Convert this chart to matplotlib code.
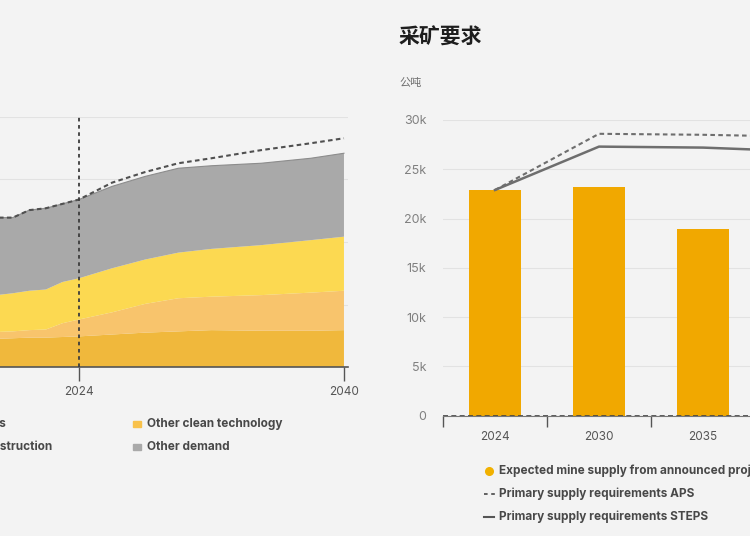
import matplotlib
matplotlib.use("Agg")
import matplotlib.pyplot as plt
from matplotlib.lines import Line2D
from matplotlib.patches import Rectangle
from matplotlib.ticker import FuncFormatter

plt.rcParams['font.family'] = ['Inter', 'DejaVu Sans']

# left panel: demand by sector (kt)
years = [2019, 2020, 2021, 2022, 2023, 2024, 2026, 2028, 2030, 2032, 2035, 2038, 2040]
networks = [4500, 4600, 4700, 4700, 4800, 4900, 5200, 5500, 5700, 5900, 5800, 5800, 5900]
clean_tech = [1100, 1100, 1200, 1300, 2200, 2700, 3550, 4600, 5300, 5350, 5700, 6100, 6300]
construction = [5900, 6100, 6300, 6400, 6600, 6600, 7050, 7100, 7300, 7650, 8000, 8400, 8650]
other = [12400, 12100, 12900, 13000, 12500, 12600, 13100, 13300, 13500, 13300, 13100, 13100, 13350]
total_aps = [23900, 23900, 25100, 25400, 26100, 26800, 29500, 31200, 32600, 33400, 34700, 35800, 36600]

# right panel: mining requirements (kt)
cats = ["2024", "2030", "2035", "2040"]
mine_supply = [22900, 23200, 18900]
req_aps = [22900, 28600, 28500, 28300]
req_steps = [22900, 27300, 27200, 26800]

BG = "#f3f3f3"
TXT = "#484848"
GRID = "#e2e2e2"
W, H = 750, 536


def fx(x):
    return x / W


def fy(y):
    return 1 - y / H


fig = plt.figure(figsize=(7.5, 5.36), dpi=100, facecolor=BG)

# ---- left panel
ax1 = fig.add_axes([fx(-3.8), fy(367), 351.9 / W, 250 / H], facecolor=BG)
ax1.stackplot(years, networks, clean_tech, construction, other,
              colors=["#f0b83c", "#f8c46c", "#fcd951", "#a9a9a9"],
              edgecolor="none", zorder=2)
tops = [sum(v) for v in zip(networks, clean_tech, construction, other)]
ax1.plot(years, tops, color="#8c8c8c", lw=0.8, zorder=3)
ax1.plot(years, total_aps, color="#505050", lw=1.5, ls=(0, (2.2, 1.6)), zorder=4)
ax1.axvline(2024, color="#3c3c3c", lw=1.3, ls=(0, (2, 2)), zorder=5)
ax1.set_xlim(2019, 2040.25)
ax1.set_ylim(0, 40000)
ax1.set_yticks([0, 10000, 20000, 30000, 40000])
ax1.grid(axis="y", color=GRID, lw=0.8, zorder=0)
ax1.set_xticks([2024, 2040])
ax1.tick_params(axis="y", length=0, labelleft=False)
ax1.tick_params(axis="x", length=10, width=1, color="#555555", labelsize=8.5,
                labelcolor="#555555", pad=4)
for s in ["top", "right", "left"]:
    ax1.spines[s].set_visible(False)
ax1.spines["bottom"].set_color("#555555")
ax1.spines["bottom"].set_linewidth(1.2)

# ---- right panel
ax2 = fig.add_axes([fx(443), fy(415.7), 416 / W, 295.7 / H], facecolor=BG)
ax2.bar(range(len(mine_supply)), mine_supply, width=0.5, color="#f1a800", zorder=2)
ax2.plot(range(len(cats)), req_aps, color="#6e6e6e", lw=1.5, ls=(0, (2.2, 1.6)), zorder=3)
ax2.plot(range(len(cats)), req_steps, color="#6e6e6e", lw=1.8, zorder=3)
ax2.axhline(0, color="#444444", lw=1.2, ls=(0, (3, 2)), zorder=4)
ax2.set_xlim(-0.5, 3.5)
ax2.set_ylim(0, 30000)
ax2.set_yticks(range(0, 30001, 5000))
ax2.yaxis.set_major_formatter(FuncFormatter(lambda v, p: "0" if v == 0 else f"{int(v / 1000)}k"))
ax2.grid(axis="y", color=GRID, lw=0.8, zorder=0)
ax2.set_xticks(range(len(cats)))
ax2.set_xticklabels(cats)
ax2.set_xticks([i - 0.5 for i in range(len(cats) + 1)], minor=True)
ax2.tick_params(axis="x", which="major", length=0, labelsize=8.5, labelcolor="#555555", pad=11)
ax2.tick_params(axis="x", which="minor", length=8, width=1, color="#555555")
ax2.tick_params(axis="y", length=0, labelsize=9, labelcolor="#808080", pad=12)
for s in ["top", "right", "left"]:
    ax2.spines[s].set_visible(False)
ax2.spines["bottom"].set_color("#777777")
ax2.spines["bottom"].set_linewidth(0.8)

fig.text(fx(399), fy(37), "采矿要求", family=["Noto Sans CJK SC", "DejaVu Sans"],
         fontsize=15, fontweight="bold", color="#1e1e1e", va="center", ha="left")
fig.text(fx(399), fy(83), "公吨", family=["Noto Sans CJK SC", "DejaVu Sans"],
         fontsize=8, color="#707070", va="center", ha="left")

# ---- left legend (row-major, two columns)
left_items = [("Electricity grids", "#f0b83c", -99, 424),
              ("Other clean technology", "#f8c14a", 133, 424),
              ("Building and construction", "#fcd951", -110, 447),
              ("Other demand", "#a9a9a9", 133, 447)]
for label, col, x0, y0 in left_items:
    fig.patches.append(Rectangle((fx(x0), fy(y0 + 3)), 8 / W, 6 / H, color=col,
                                 transform=fig.transFigure, figure=fig))
    fig.text(fx(x0 + 14), fy(y0), label, fontsize=8.5, fontweight="bold",
             color=TXT, va="center", ha="left")

# ---- right legend
fig.add_artist(Line2D([fx(489)], [fy(471)], marker="o", markersize=5.5,
                      color="#f1b100", lw=0, transform=fig.transFigure))
fig.add_artist(Line2D([fx(484), fx(495)], [fy(494), fy(494)], color="#555555",
                      lw=1.3, ls=(0, (2, 2)), transform=fig.transFigure))
fig.add_artist(Line2D([fx(484), fx(494)], [fy(517), fy(517)], color="#555555",
                      lw=1.5, transform=fig.transFigure))
for label, y0 in [("Expected mine supply from announced projects", 471),
                  ("Primary supply requirements APS", 494),
                  ("Primary supply requirements STEPS", 517)]:
    fig.text(fx(499), fy(y0), label, fontsize=8.5, fontweight="bold",
             color=TXT, va="center", ha="left")

fig.savefig("out.png", dpi=100, facecolor=BG)
